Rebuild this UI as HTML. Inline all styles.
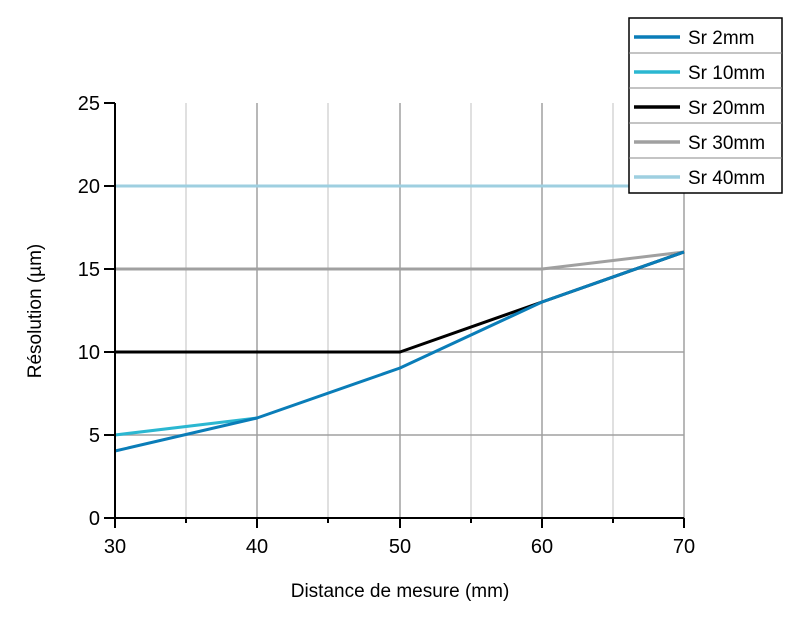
<!DOCTYPE html>
<html><head><meta charset="utf-8"><style>body{margin:0;background:#fff}svg{display:block}</style></head><body>
<svg width="800" height="620" xmlns="http://www.w3.org/2000/svg" font-family="Liberation Sans, Arial, sans-serif">
<rect width="800" height="620" fill="#fff"/>
<g stroke="#d6d6d6" stroke-width="1.5">
<line x1="186" y1="103" x2="186" y2="518"/><line x1="328" y1="103" x2="328" y2="518"/><line x1="471" y1="103" x2="471" y2="518"/><line x1="613" y1="103" x2="613" y2="518"/>
</g>
<g stroke="#a0a0a0" stroke-width="1.5">
<line x1="257" y1="103" x2="257" y2="518"/><line x1="400" y1="103" x2="400" y2="518"/><line x1="542" y1="103" x2="542" y2="518"/><line x1="684" y1="103" x2="684" y2="518"/>
<line x1="115" y1="435" x2="684" y2="435"/><line x1="115" y1="352" x2="684" y2="352"/><line x1="115" y1="269" x2="684" y2="269"/><line x1="115" y1="186" x2="684" y2="186"/>
</g>
<g fill="none" stroke-width="3" stroke-linejoin="round">
<polyline points="115,186 684,186" stroke="#9ecfe0"/>
<polyline points="115,269 542,269 684,252" stroke="#a0a0a0"/>
<polyline points="115,352 400,352 542,302 684,252" stroke="#000"/>
<polyline points="115,435 257,418" stroke="#2bb7d1"/>
<polyline points="115,451 257,418 400,368 542,302 684,252" stroke="#0a7db8"/>
</g>
<g stroke="#000" stroke-width="2">
<line x1="115" y1="103" x2="115" y2="519"/><line x1="114" y1="518" x2="684" y2="518"/>
<line x1="104" y1="103" x2="115" y2="103"/><line x1="104" y1="186" x2="115" y2="186"/><line x1="104" y1="269" x2="115" y2="269"/><line x1="104" y1="352" x2="115" y2="352"/><line x1="104" y1="435" x2="115" y2="435"/><line x1="104" y1="518" x2="115" y2="518"/>
<line x1="115" y1="518" x2="115" y2="528"/><line x1="257" y1="518" x2="257" y2="528"/><line x1="400" y1="518" x2="400" y2="528"/><line x1="542" y1="518" x2="542" y2="528"/><line x1="684" y1="518" x2="684" y2="528"/>
<line x1="186" y1="518" x2="186" y2="523"/><line x1="328" y1="518" x2="328" y2="523"/><line x1="471" y1="518" x2="471" y2="523"/><line x1="613" y1="518" x2="613" y2="523"/>
</g>
<g font-size="20" fill="#000" text-anchor="end">
<text x="100" y="110">25</text><text x="100" y="193">20</text><text x="100" y="276">15</text><text x="100" y="359">10</text><text x="100" y="442">5</text><text x="100" y="525">0</text>
</g>
<g font-size="20" fill="#000" text-anchor="middle">
<text x="115" y="553">30</text><text x="257" y="553">40</text><text x="400" y="553">50</text><text x="542" y="553">60</text><text x="684" y="553">70</text>
</g>
<g font-size="19" fill="#000" text-anchor="middle">
<text x="400" y="597">Distance de mesure (mm)</text>
<text transform="translate(41,311) rotate(-90)">Résolution (µm)</text>
</g>
<rect x="629" y="18" width="153" height="175" fill="#fff" stroke="#000" stroke-width="1.5"/>
<g stroke="#888" stroke-width="1"><line x1="629" y1="53" x2="782" y2="53"/><line x1="629" y1="88" x2="782" y2="88"/><line x1="629" y1="123" x2="782" y2="123"/><line x1="629" y1="158" x2="782" y2="158"/></g>
<g stroke-width="3.5">
<line x1="634" y1="37" x2="680" y2="37" stroke="#0a7db8"/>
<line x1="634" y1="72" x2="680" y2="72" stroke="#2bb7d1"/>
<line x1="634" y1="107" x2="680" y2="107" stroke="#000"/>
<line x1="634" y1="142" x2="680" y2="142" stroke="#a0a0a0"/>
<line x1="634" y1="177" x2="680" y2="177" stroke="#9ecfe0"/>
</g>
<g font-size="19" fill="#000">
<text x="688" y="44">Sr 2mm</text><text x="688" y="79">Sr 10mm</text><text x="688" y="114">Sr 20mm</text><text x="688" y="149">Sr 30mm</text><text x="688" y="184">Sr 40mm</text>
</g>
</svg>
</body></html>
